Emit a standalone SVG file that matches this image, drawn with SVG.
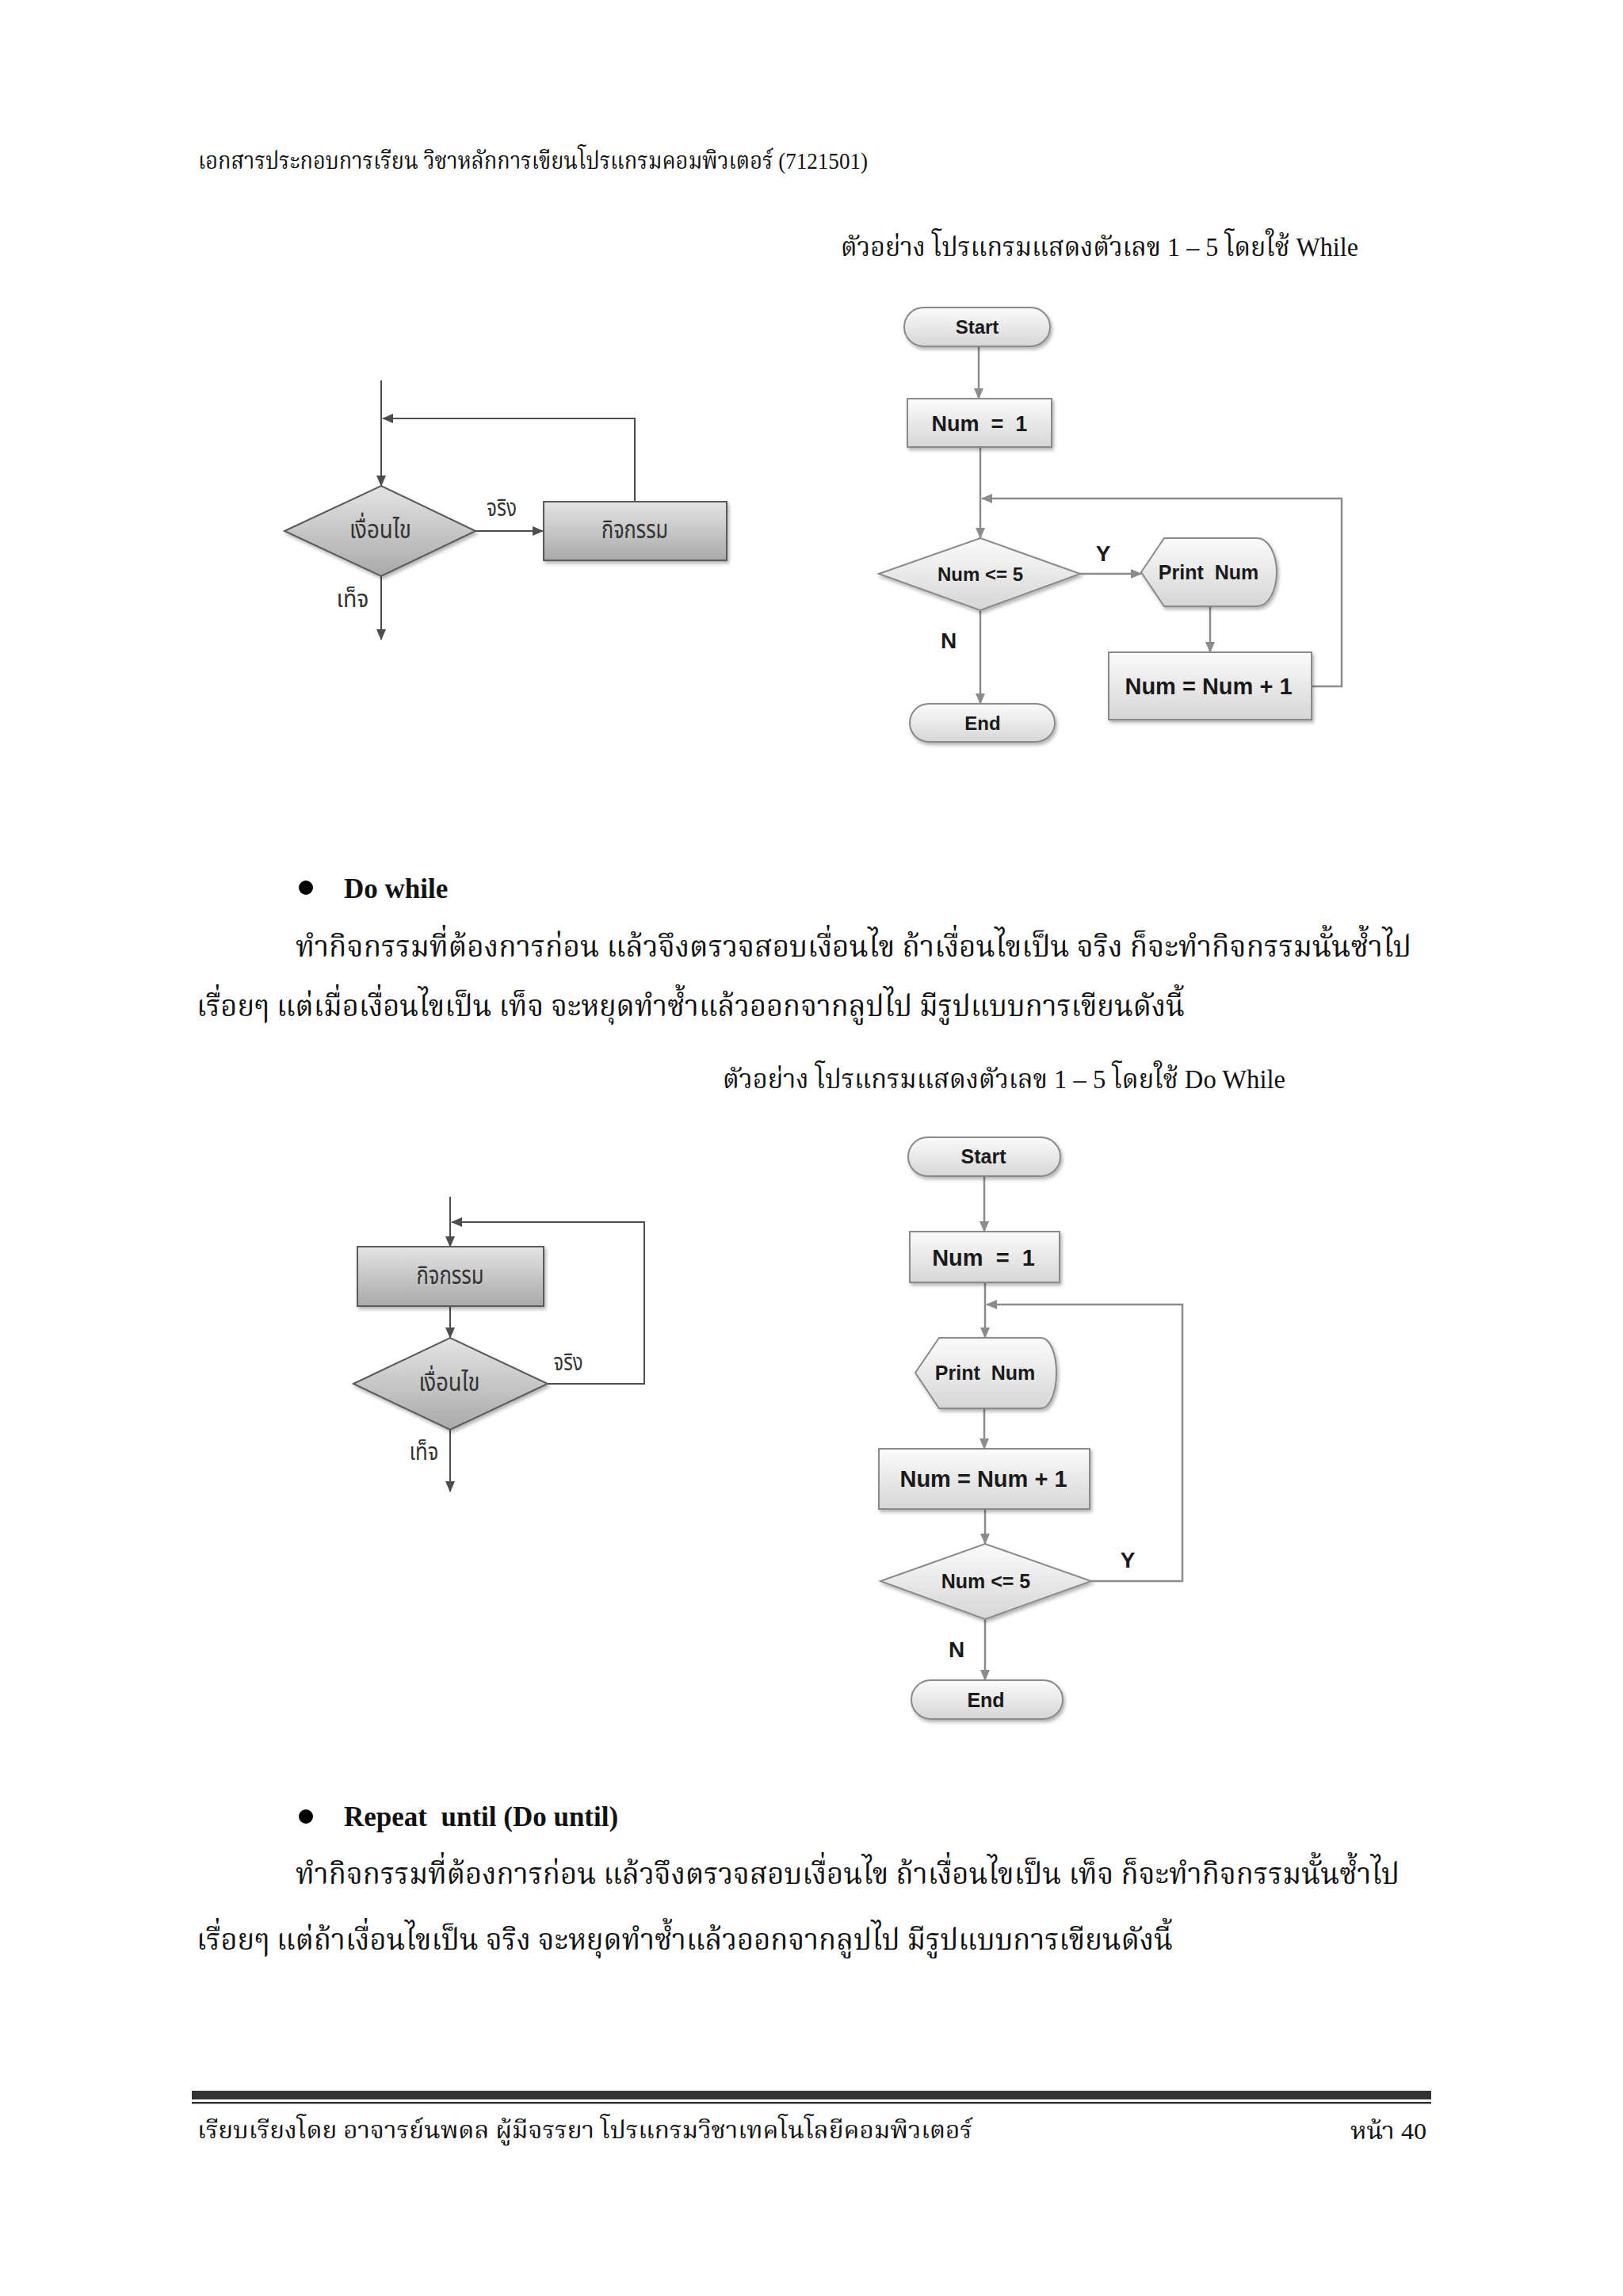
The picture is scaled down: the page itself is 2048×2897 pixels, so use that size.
<svg xmlns="http://www.w3.org/2000/svg" width="2048" height="2897" viewBox="0 0 2048 2897">
<style>
.thai{font-family:"Liberation Serif","Noto Serif Thai","Noto Sans Thai","Garuda","Loma",serif;fill:#111}
.thsans{font-family:"Liberation Sans","Noto Sans Thai","Loma","Garuda",sans-serif;fill:#333}
.bold{font-family:"Liberation Serif","Noto Serif Thai",serif;font-weight:bold;fill:#111}
.fl{font-family:"Liberation Sans",Arial,sans-serif;font-weight:bold;fill:#1a1a1a;text-anchor:middle}
.dk{fill:url(#gDark);stroke:#5a5a5a;stroke-width:2;filter:url(#sh)}
.lt{fill:url(#gLight);stroke:#8a8a8a;stroke-width:2;filter:url(#sh)}
.cd{fill:none;stroke:#4d4d4d;stroke-width:2}
.cl{fill:none;stroke:#8c8c8c;stroke-width:2.5}
</style>
<defs>
<linearGradient id="gDark" x1="0" y1="0" x2="0" y2="1"><stop offset="0" stop-color="#e4e4e4"/><stop offset="1" stop-color="#a9a9a9"/></linearGradient>
<linearGradient id="gLight" x1="0" y1="0" x2="0" y2="1"><stop offset="0" stop-color="#fbfbfb"/><stop offset="1" stop-color="#d6d6d6"/></linearGradient>
<filter id="sh" x="-10%" y="-10%" width="125%" height="130%"><feDropShadow dx="2" dy="3" stdDeviation="2" flood-color="#000" flood-opacity="0.3"/></filter>
<marker id="aD" markerWidth="14" markerHeight="12" refX="13" refY="6" orient="auto" markerUnits="userSpaceOnUse"><path d="M0,0 L14,6 L0,12 Z" fill="#4d4d4d"/></marker>
<marker id="aL" markerWidth="14" markerHeight="12" refX="13" refY="6" orient="auto" markerUnits="userSpaceOnUse"><path d="M0,0 L14,6 L0,12 Z" fill="#8c8c8c"/></marker>
</defs>
<rect width="2048" height="2897" fill="#fff"/>

<!-- page text -->
<g id="page-text">
<text class="thai" x="250" y="213" font-size="30" textLength="845" lengthAdjust="spacingAndGlyphs">เอกสารประกอบการเรียน วิชาหลักการเขียนโปรแกรมคอมพิวเตอร์ (7121501)</text>
<text class="thai" x="1061" y="323" font-size="34" textLength="653" lengthAdjust="spacingAndGlyphs">ตัวอย่าง โปรแกรมแสดงตัวเลข 1 – 5 โดยใช้ While</text>
<circle cx="386" cy="1120" r="9" fill="#000"/>
<text class="bold" x="434" y="1133" font-size="35">Do while</text>
<text class="thai" x="373" y="1207" font-size="38" textLength="1408" lengthAdjust="spacingAndGlyphs">ทำกิจกรรมที่ต้องการก่อน แล้วจึงตรวจสอบเงื่อนไข  ถ้าเงื่อนไขเป็น จริง ก็จะทำกิจกรรมนั้นซ้ำไป</text>
<text class="thai" x="248" y="1282" font-size="38" textLength="1247" lengthAdjust="spacingAndGlyphs">เรื่อยๆ แต่เมื่อเงื่อนไขเป็น เท็จ จะหยุดทำซ้ำแล้วออกจากลูปไป มีรูปแบบการเขียนดังนี้</text>
<text class="thai" x="912" y="1373" font-size="34" textLength="710" lengthAdjust="spacingAndGlyphs">ตัวอย่าง โปรแกรมแสดงตัวเลข 1 – 5 โดยใช้ Do While</text>
<circle cx="386" cy="2292" r="9" fill="#000"/>
<text class="bold" x="434" y="2304" font-size="35" xml:space="preserve">Repeat  until (Do until)</text>
<text class="thai" x="373" y="2377" font-size="38" textLength="1393" lengthAdjust="spacingAndGlyphs">ทำกิจกรรมที่ต้องการก่อน แล้วจึงตรวจสอบเงื่อนไข ถ้าเงื่อนไขเป็น เท็จ ก็จะทำกิจกรรมนั้นซ้ำไป</text>
<text class="thai" x="248" y="2460" font-size="38" textLength="1232" lengthAdjust="spacingAndGlyphs">เรื่อยๆ แต่ถ้าเงื่อนไขเป็น จริง จะหยุดทำซ้ำแล้วออกจากลูปไป มีรูปแบบการเขียนดังนี้</text>
<rect x="242" y="2638" width="1564" height="11" fill="#333"/>
<rect x="242" y="2652" width="1564" height="2.5" fill="#333"/>
<text class="thai" x="249" y="2698" font-size="30" textLength="978" lengthAdjust="spacingAndGlyphs">เรียบเรียงโดย  อาจารย์นพดล ผู้มีจรรยา  โปรแกรมวิชาเทคโนโลยีคอมพิวเตอร์</text>
<text class="thai" x="1704" y="2699" font-size="30" textLength="96" lengthAdjust="spacingAndGlyphs">หน้า 40</text>
</g>

<!-- connectors -->
<g id="connectors">
<path class="cd" d="M481,480 L481,613" marker-end="url(#aD)"/>
<path class="cd" d="M801,633 L801,528 L483,528" marker-end="url(#aD)"/>
<path class="cd" d="M600,670 L685,670" marker-end="url(#aD)"/>
<path class="cd" d="M481,727 L481,807" marker-end="url(#aD)"/>

<path class="cl" d="M1235,437 L1235,503" marker-end="url(#aL)"/>
<path class="cl" d="M1237,564 L1237,679" marker-end="url(#aL)"/>
<path class="cl" d="M1655,866 L1693,866 L1693,629 L1239,629" marker-end="url(#aL)"/>
<path class="cl" d="M1363,724 L1440,724" marker-end="url(#aL)"/>
<path class="cl" d="M1527,765 L1527,823" marker-end="url(#aL)"/>
<path class="cl" d="M1237,770 L1237,888" marker-end="url(#aL)"/>

<path class="cd" d="M568,1510 L568,1573" marker-end="url(#aD)"/>
<path class="cd" d="M691,1746 L813,1746 L813,1542 L570,1542" marker-end="url(#aD)"/>
<path class="cd" d="M568,1648 L568,1688" marker-end="url(#aD)"/>
<path class="cd" d="M568,1804 L568,1882" marker-end="url(#aD)"/>

<path class="cl" d="M1242,1484 L1242,1554" marker-end="url(#aL)"/>
<path class="cl" d="M1243,1618 L1243,1688" marker-end="url(#aL)"/>
<path class="cl" d="M1377,1995 L1492,1995 L1492,1646 L1245,1646" marker-end="url(#aL)"/>
<path class="cl" d="M1242,1777 L1242,1828" marker-end="url(#aL)"/>
<path class="cl" d="M1243,1904 L1243,1948" marker-end="url(#aL)"/>
<path class="cl" d="M1243,2043 L1243,2120" marker-end="url(#aL)"/>

<text class="thsans" x="633" y="651" font-size="30" text-anchor="middle" textLength="38" lengthAdjust="spacingAndGlyphs">จริง</text>
<text class="thsans" x="445" y="766" font-size="30" text-anchor="middle" textLength="41" lengthAdjust="spacingAndGlyphs">เท็จ</text>
<text class="fl" x="1392" y="708" font-size="28">Y</text>
<text class="fl" x="1197" y="818" font-size="28">N</text>
<text class="thsans" x="717" y="1729" font-size="30" text-anchor="middle" textLength="37" lengthAdjust="spacingAndGlyphs">จริง</text>
<text class="thsans" x="535" y="1842" font-size="30" text-anchor="middle" textLength="37" lengthAdjust="spacingAndGlyphs">เท็จ</text>
<text class="fl" x="1423" y="1978" font-size="28">Y</text>
<text class="fl" x="1207" y="2091" font-size="28">N</text>
</g>

<!-- top-left while -->
<g id="w-cond">
<polygon class="dk" points="359,670 481,613 600,670 481,727"/>
<text class="thsans" x="480" y="679" font-size="32" text-anchor="middle" textLength="78" lengthAdjust="spacingAndGlyphs">เงื่อนไข</text>
</g>
<g id="w-act">
<rect class="dk" x="686" y="633" width="231" height="74"/>
<text class="thsans" x="801" y="679" font-size="32" text-anchor="middle" textLength="84" lengthAdjust="spacingAndGlyphs">กิจกรรม</text>
</g>

<!-- top-right while example -->
<g id="w-start">
<rect class="lt" x="1141" y="388" width="184" height="49" rx="24.5"/>
<text class="fl" x="1233" y="421" font-size="24">Start</text>
</g>
<g id="w-init">
<rect class="lt" x="1145" y="503" width="182" height="61"/>
<text class="fl" x="1236" y="544" font-size="27" xml:space="preserve">Num  =  1</text>
</g>
<g id="w-test">
<polygon class="lt" points="1109,724 1237,679 1363,724 1237,770"/>
<text class="fl" x="1237" y="733" font-size="24">Num &lt;= 5</text>
</g>
<g id="w-print">
<path class="lt" d="M1440,722 L1469,679 L1586,679 C1601,679 1611,700 1611,722 C1611,744 1601,765 1586,765 L1469,765 Z"/>
<text class="fl" x="1525" y="731" font-size="25" xml:space="preserve">Print  Num</text>
</g>
<g id="w-inc">
<rect class="lt" x="1399" y="823" width="256" height="85"/>
<text class="fl" x="1525" y="876" font-size="29">Num = Num + 1</text>
</g>
<g id="w-end">
<rect class="lt" x="1148" y="888" width="183" height="48" rx="24"/>
<text class="fl" x="1240" y="921" font-size="24">End</text>
</g>

<!-- middle-left do while -->
<g id="d-act">
<rect class="dk" x="451" y="1573" width="235" height="75"/>
<text class="thsans" x="568" y="1620" font-size="32" text-anchor="middle" textLength="85" lengthAdjust="spacingAndGlyphs">กิจกรรม</text>
</g>
<g id="d-cond">
<polygon class="dk" points="446,1746 568,1688 691,1746 568,1804"/>
<text class="thsans" x="567" y="1755" font-size="32" text-anchor="middle" textLength="77" lengthAdjust="spacingAndGlyphs">เงื่อนไข</text>
</g>

<!-- middle-right do while example -->
<g id="d-start">
<rect class="lt" x="1146" y="1435" width="192" height="49" rx="24.5"/>
<text class="fl" x="1241" y="1468" font-size="25">Start</text>
</g>
<g id="d-init">
<rect class="lt" x="1148" y="1554" width="189" height="64"/>
<text class="fl" x="1241" y="1597" font-size="29" xml:space="preserve">Num  =  1</text>
</g>
<g id="d-print">
<path class="lt" d="M1155,1732 L1185,1688 L1313,1688 C1326,1688 1333,1710 1333,1732 C1333,1754 1326,1777 1313,1777 L1185,1777 Z"/>
<text class="fl" x="1243" y="1741" font-size="25" xml:space="preserve">Print  Num</text>
</g>
<g id="d-inc">
<rect class="lt" x="1109" y="1828" width="266" height="76"/>
<text class="fl" x="1241" y="1876" font-size="29">Num = Num + 1</text>
</g>
<g id="d-test">
<polygon class="lt" points="1111,1995 1243,1948 1377,1995 1243,2043"/>
<text class="fl" x="1244" y="2004" font-size="25">Num &lt;= 5</text>
</g>
<g id="d-end">
<rect class="lt" x="1150" y="2120" width="191" height="49" rx="24.5"/>
<text class="fl" x="1244" y="2154" font-size="25">End</text>
</g>
</svg>
